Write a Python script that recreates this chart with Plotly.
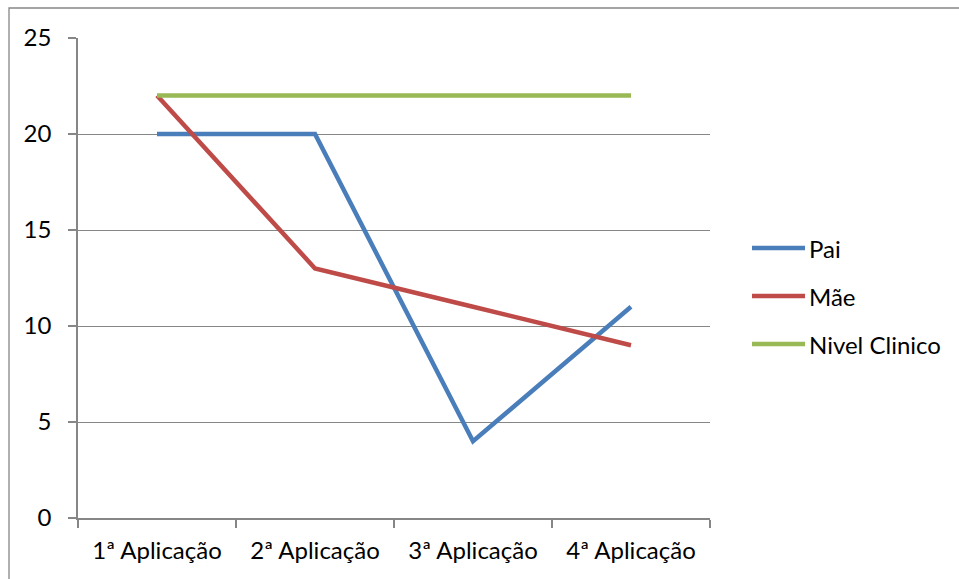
import plotly.graph_objects as go

# Scores per application
categories = ["1ª Aplicação", "2ª Aplicação", "3ª Aplicação", "4ª Aplicação"]
pai = [20, 20, 4, 11]
mae = [22, 13, 11, 9]
nivel_clinico = [22, 22, 22, 22]

series_names = ["Pai", "Mãe", "Nivel Clinico"]
series_values = [pai, mae, nivel_clinico]
series_colors = ["#4A7EBB", "#BE4B48", "#98B954"]

W, H = 959, 579
L, R, T, B = 78, 710, 38, 518  # plot area in pixels

FONT = "Lato, 'Open Sans', sans-serif"
FSIZE = 24
GRID = "#868686"

fig = go.Figure()
for name, vals, col in zip(series_names, series_values, series_colors):
    fig.add_trace(go.Scatter(
        x=categories, y=vals, mode="lines", name=name,
        line=dict(color=col, width=4.5), showlegend=False,
    ))

def px_x(p):
    return (p - L) / (R - L)

def px_y(p):
    return (B - p) / (B - T)

shapes = []
annotations = []
# outer chart frame
shapes.append(dict(type="rect", xref="paper", yref="paper",
                   x0=px_x(9), x1=px_x(968), y0=px_y(588), y1=px_y(8),
                   line=dict(color=GRID, width=1.3), layer="below"))
# legend drawn on the right: line sample + series name
for i, (name, col) in enumerate(zip(series_names, series_colors)):
    yc = 248 + i * 48
    shapes.append(dict(type="line", xref="paper", yref="paper",
                       x0=px_x(752), x1=px_x(805), y0=px_y(yc), y1=px_y(yc),
                       line=dict(color=col, width=4.5)))
    annotations.append(dict(xref="paper", yref="paper", x=px_x(807), y=px_y(yc),
                            xanchor="left", yanchor="middle", text=name,
                            showarrow=False, font=dict(family=FONT, size=FSIZE, color="#000")))

fig.update_layout(
    width=W, height=H,
    margin=dict(l=L, r=W - R, t=T, b=H - B, pad=0),
    paper_bgcolor="white", plot_bgcolor="white",
    shapes=shapes, annotations=annotations,
    font=dict(family=FONT, size=FSIZE, color="#000"),
    xaxis=dict(type="category", range=[-0.5, 3.5], tickson="boundaries",
               ticks="outside", ticklen=8, tickcolor=GRID, tickwidth=1.5,
               showline=True, linecolor=GRID, linewidth=1.5,
               showgrid=False, zeroline=False, ticklabelstandoff=10,
               tickfont=dict(family=FONT, size=FSIZE, color="#000")),
    yaxis=dict(range=[0, 25], dtick=5, tick0=0,
               ticks="outside", ticklen=8, tickcolor=GRID, tickwidth=1.5,
               showline=True, linecolor=GRID, linewidth=1.5,
               showgrid=True, gridcolor=GRID, gridwidth=1.3,
               zeroline=False, ticklabelstandoff=12,
               tickfont=dict(family=FONT, size=FSIZE, color="#000")),
)

fig.write_html("out.html")
